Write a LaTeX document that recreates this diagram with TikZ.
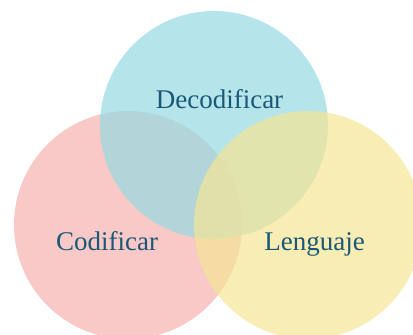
\documentclass[tikz,border=0pt]{standalone}
\usepackage{fontspec}
\setmainfont{Liberation Serif}
\definecolor{pinkc}{RGB}{248,201,198}
\definecolor{cyanc}{RGB}{152,219,226}
\definecolor{yellowc}{RGB}{245,229,146}
\definecolor{textc}{RGB}{27,88,119}
\begin{document}
\begin{tikzpicture}[x=1pt,y=1pt,
  ring/.style={circle, minimum size=228pt, inner sep=0pt, draw=none},
  lbl/.style={anchor=base, text=textc, font=\fontsize{27}{30}\selectfont, inner sep=0pt}]
\useasboundingbox (0,0) rectangle (413,335);
\clip (0,0) rectangle (413,335);
\node[ring, fill=pinkc] (cod) at (128,110) {};
\node[ring, fill=cyanc, fill opacity=0.72] (dec) at (214,210) {};
\node[ring, fill=yellowc, fill opacity=0.69] (len) at (308,110) {};
\node[lbl] (tdec) at (219.5,226) {Decodificar};
\node[lbl] (tcod) at (107,84) {Codificar};
\node[lbl] (tlen) at (314.5,84) {Lenguaje};
\end{tikzpicture}
\end{document}
